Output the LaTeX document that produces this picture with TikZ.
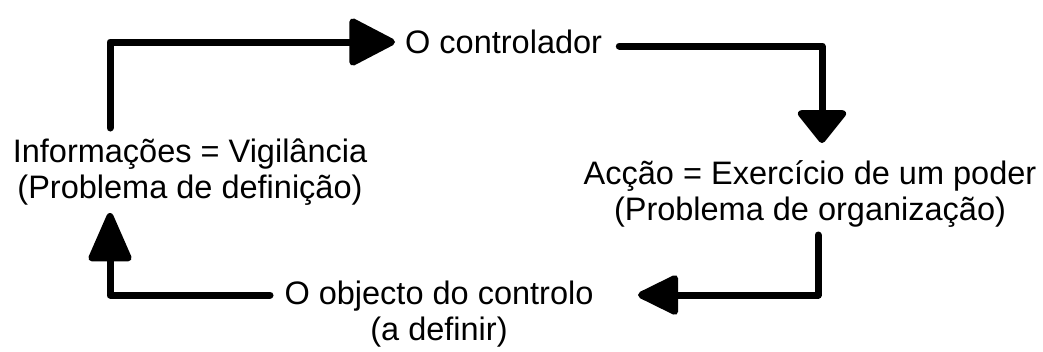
\documentclass[tikz,border=0pt]{standalone}
\usepackage{fontspec}
\setmainfont{Liberation Sans}
\usetikzlibrary{arrows.meta}
\begin{document}
\begin{tikzpicture}[x=1pt,y=-1pt,
  lbl/.style={inner sep=0pt, align=center, font=\fontsize{32.5}{35.5}\selectfont},
  conn/.style={line width=7pt, line cap=round, line join=round},
  tipA/.style={-{Triangle[length=50pt,width=50pt,round]}},
  tipB/.style={-{Triangle[length=35pt,width=54pt,round]}},
  tipC/.style={-{Triangle[length=45pt,width=42pt,round]}},
  tipD/.style={-{Triangle[length=54pt,width=45pt,round]}}]
\useasboundingbox (0,0) rectangle (1043,351);
\node[lbl, anchor=west] (ctrl) at (405,42) {O controlador};
\node[lbl] (info) at (190,172) {Informações = Vigilância\\(Problema de definição)};
\node[lbl] (acc) at (810,194) {Acção = Exercício de um poder\\(Problema de organização)};
\node[lbl] (obj) at (439,314) {O objecto do controlo\\(a definir)};
\coordinate (p1) at (110,128);
\coordinate (p2) at (822,143);
\coordinate (p3s) at (818,235);
\coordinate (p3e) at (638,295);
\coordinate (p4s) at (270,295);
\coordinate (p4e) at (110,213);
\draw[conn, tipA, shorten >=10pt] (p1) |- (ctrl.west);
\draw[conn, tipB] ([shift={(17,4)}]ctrl.east) -| (p2);
\draw[conn, tipC] (p3s) |- (p3e);
\draw[conn, tipD] (p4s) -| (p4e);
\end{tikzpicture}
\end{document}
